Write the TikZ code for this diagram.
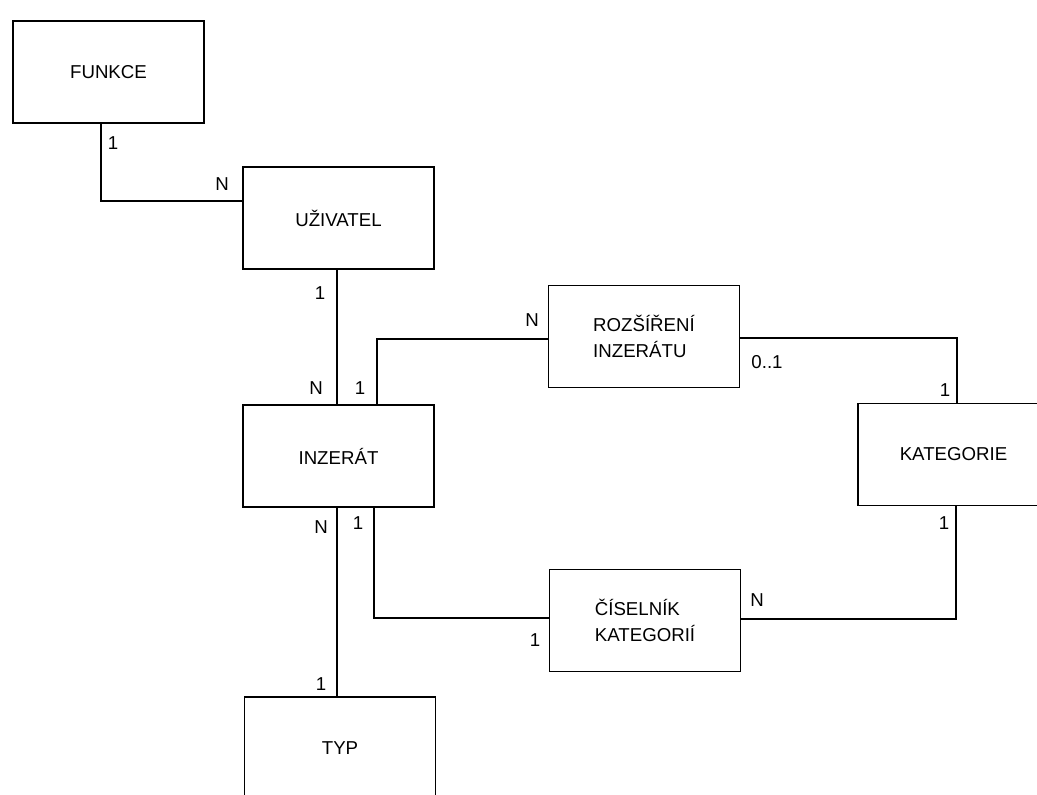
\documentclass[tikz,border=0pt]{standalone}
\usepackage{fontspec}
\setmainfont{Liberation Sans}
\begin{document}
\begin{tikzpicture}[x=0.75pt, y=-0.75pt,
    entity/.style={draw, line width=1.1pt, minimum width=143.25pt, minimum height=76.5pt,
        inner sep=0pt, align=left, font=\fontsize{14}{19.5}\selectfont},
    card/.style={inner sep=0pt, font=\fontsize{14}{17}\selectfont},
    link/.style={line width=1.1pt}]
    % Frame
    \useasboundingbox (0,0) rectangle (1037,794);
    \clip (0,0) rectangle (1037,794);

    % Entities
    \node[entity] (funkce) at (108.5,72) {FUNKCE};
    \node[entity] (uzivatel) at (338.5,218) {UŽIVATEL};
    \node[entity] (inzerat) at (338.5,456) {INZERÁT};
    \node[entity] (rozsireni) at (644,336.5) {ROZŠÍŘENÍ\\INZERÁTU};
    \node[entity] (kategorie) at (953.5,454.5) {KATEGORIE};
    \node[entity] (ciselnik) at (645,620.5) {ČÍSELNÍK\\KATEGORIÍ};
    \node[entity] (typ) at (340,748) {TYP};

    % Relationships
    \draw[link] (funkce.south -| 101,0) |- (uzivatel.west |- 0,201);
    \draw[link] (uzivatel.south -| 337,0) -- (inzerat.north -| 337,0);
    \draw[link] (inzerat.north -| 377,0) |- (rozsireni.west |- 0,339);
    \draw[link] (rozsireni.east |- 0,338) -| (kategorie.north -| 957,0);
    \draw[link] (kategorie.south -| 956,0) |- (ciselnik.east |- 0,619);
    \draw[link] (inzerat.south -| 374,0) |- (ciselnik.west |- 0,618);
    \draw[link] (inzerat.south -| 337,0) -- (typ.north -| 337,0);

    % Cardinalities
    \node[card] (f1) at (113,143) {1};
    \node[card] (uN) at (222,184) {N};
    \node[card] (u1) at (320,293) {1};
    \node[card] (iN) at (316,388) {N};
    \node[card] (i1) at (360,388) {1};
    \node[card] (rN) at (532,320) {N};
    \node[card] (r01) at (767,362) {0..1};
    \node[card] (k1) at (945,390) {1};
    \node[card] (k2) at (944,523) {1};
    \node[card] (cN) at (757,600) {N};
    \node[card] (c1) at (535,640) {1};
    \node[card] (iN2) at (321,527) {N};
    \node[card] (i2) at (358,523) {1};
    \node[card] (t1) at (321,684) {1};
\end{tikzpicture}
\end{document}
